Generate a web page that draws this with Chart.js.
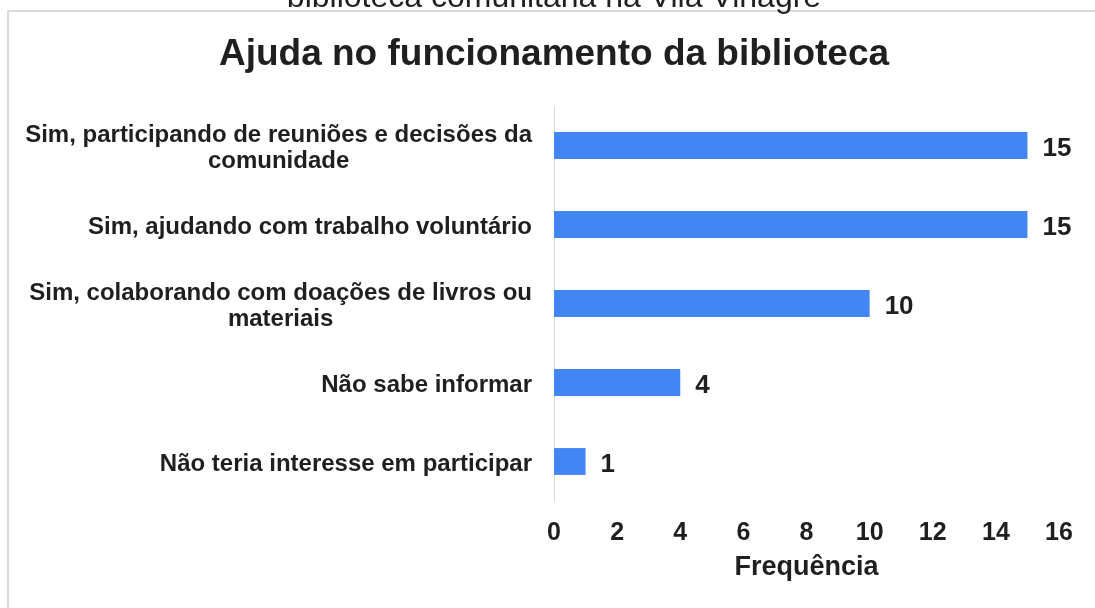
<!DOCTYPE html>
<html>
<head>
<meta charset="utf-8">
<script src="https://cdn.jsdelivr.net/npm/chart.js@4.4.1/dist/chart.umd.min.js"></script>
<style>
    html, body { margin: 0; padding: 0; background: #fff; }
    #wrap { position: relative; width: 1095px; height: 608px; overflow: hidden; }
    #frame { position: absolute; left: 7px; top: 10px; right: 0; bottom: 0;
             border-left: 2px solid #dadada; border-top: 2px solid #dadada; }
    #chart { position: absolute; left: 0; top: 0; }
</style>
</head>
<body>
<div id="wrap">
    <div id="frame"></div>
    <canvas id="chart" width="1095" height="608"></canvas>
</div>
<script>
// Chart data
const categories = [
    ['Sim, participando de reuniões e decisões da', 'comunidade'],
    ['Sim, ajudando com trabalho voluntário'],
    ['Sim, colaborando com doações de livros ou', 'materiais'],
    ['Não sabe informar'],
    ['Não teria interesse em participar']
];
const frequencies = [15, 15, 10, 4, 1];
const xMin = 0;
const xMax = 16;
const xStep = 2;

const chartTitle = 'Ajuda no funcionamento da biblioteca';
const cutTitle = 'biblioteca comunitária na Vila Vinagre';
const xAxisTitle = 'Frequência';

const fontFamily = '"Liberation Sans", Arial, sans-serif';
const textColor = '#1f1f1f';
const barColor = '#4285f4';

Chart.defaults.font.family = fontFamily;
Chart.defaults.color = textColor;

// Titles, category labels and value labels drawn on the canvas
const textPlugin = {
    id: 'textPlugin',
    afterDraw(chart) {
        const ctx = chart.ctx;
        const area = chart.chartArea;
        const yScale = chart.scales.y;
        ctx.save();
        ctx.fillStyle = textColor;

        // cut-off heading above the frame
        ctx.font = '32px ' + fontFamily;
        ctx.textAlign = 'center';
        ctx.textBaseline = 'alphabetic';
        ctx.fillText(cutTitle, 554, 7);

        // chart title
        ctx.font = 'bold 37px ' + fontFamily;
        ctx.textBaseline = 'middle';
        ctx.fillText(chartTitle, 554, 55);

        // category labels: right aligned block, lines centred inside it
        ctx.font = 'bold 24px ' + fontFamily;
        const right = area.left - 22;
        const lineGap = 26;
        categories.forEach((lines, i) => {
            const y = yScale.getPixelForValue(i) + 3;
            const w = Math.max(...lines.map(l => ctx.measureText(l).width));
            const y0 = y - (lines.length - 1) * lineGap / 2;
            lines.forEach((l, j) => ctx.fillText(l, right - w / 2, y0 + j * lineGap));
        });

        // value labels at bar ends
        ctx.font = 'bold 26px ' + fontFamily;
        ctx.textAlign = 'left';
        chart.getDatasetMeta(0).data.forEach((bar, i) => {
            ctx.fillText(String(frequencies[i]), bar.x + 15, bar.y + 3);
        });
        ctx.restore();
    }
};

new Chart(document.getElementById('chart'), {
    type: 'bar',
    data: {
        labels: categories.map(c => c.join(' ')),
        datasets: [{
            data: frequencies,
            backgroundColor: barColor,
            borderWidth: 0,
            barPercentage: 0.34,
            categoryPercentage: 1
        }]
    },
    options: {
        indexAxis: 'y',
        responsive: false,
        animation: false,
        layout: { padding: { top: 106, right: 36, bottom: 3, left: 0 } },
        plugins: {
            legend: { display: false },
            title: { display: false },
            tooltip: { enabled: false }
        },
        scales: {
            x: {
                min: xMin,
                max: xMax,
                grid: { display: false, drawTicks: false },
                border: { display: false },
                ticks: {
                    stepSize: xStep,
                    padding: 17,
                    color: textColor,
                    font: { size: 25, weight: 'bold' }
                },
                title: {
                    display: true,
                    text: xAxisTitle,
                    color: textColor,
                    font: { size: 27, weight: 'bold' },
                    padding: { top: 0, bottom: 21 }
                },
                afterFit(scale) {
                    scale.height = 104;
                }
            },
            y: {
                grid: { display: false, drawTicks: false },
                border: { display: true, color: '#d9d9d9', width: 1 },
                ticks: { display: false },
                afterFit(scale) {
                    scale.width = 554;
                }
            }
        }
    },
    plugins: [textPlugin]
});
</script>
</body>
</html>
